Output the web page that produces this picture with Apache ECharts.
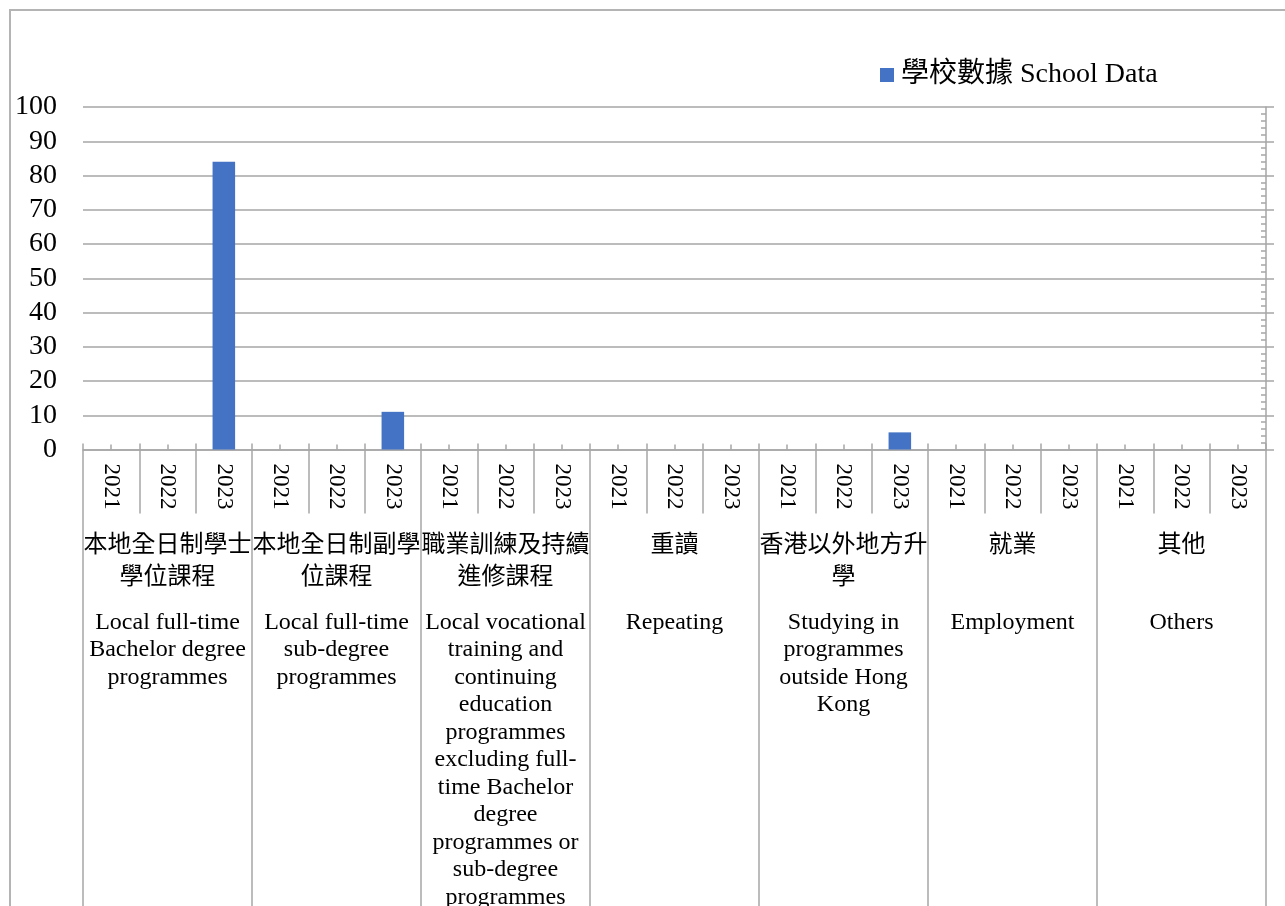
<!DOCTYPE html>
<html>
<head>
<meta charset="utf-8">
<title>學校數據 School Data</title>
<script src="https://cdn.jsdelivr.net/npm/echarts@6/dist/echarts.min.js"></script>
<style>
  html, body { margin: 0; padding: 0; background: #fff; overflow: hidden; }
  #frame {
    position: absolute; left: 9px; top: 9px; width: 1400px; height: 1100px;
    border: 2px solid #b4b4b4; box-sizing: border-box;
  }
  #chart { position: absolute; left: 0; top: 0; width: 1285px; height: 906px; }
</style>
</head>
<body>
<div id="frame"></div>
<div id="chart"></div>
<script>
// Years shown under each destination group
const years = ['2021', '2022', '2023'];

// Destination groups (Chinese line, English line), with the line breaks used on the axis
const groupsZh = [
  '本地全日制學士\n學位課程',
  '本地全日制副學\n位課程',
  '職業訓練及持續\n進修課程',
  '重讀',
  '香港以外地方升\n學',
  '就業',
  '其他'
];
const groupsEn = [
  'Local full-time\nBachelor degree\nprogrammes',
  'Local full-time\nsub-degree\nprogrammes',
  'Local vocational\ntraining and\ncontinuing\neducation\nprogrammes\nexcluding full-\ntime Bachelor\ndegree\nprogrammes or\nsub-degree\nprogrammes',
  'Repeating',
  'Studying in\nprogrammes\noutside Hong\nKong',
  'Employment',
  'Others'
];

// Percentage of students per group, one array per year
const values2021 = [0, 0, 0, 0, 0, 0, 0];
const values2022 = [0, 0, 0, 0, 0, 0, 0];
const values2023 = [84, 11, 0, 0, 5, 0, 0];

// Value axis ticks
const yMin = 0, yMax = 100, yStep = 10;

const seriesName = '學校數據 School Data';

// Flatten into one bar per (group, year)
const yearCats = [];
const barValues = [];
const perYear = [values2021, values2022, values2023];
groupsZh.forEach((g, gi) => {
  years.forEach((y, yi) => {
    yearCats.push(y);
    barValues.push(perYear[yi][gi]);
  });
});

const GRAY = '#a6a6a6';
const LW = 1.5;
const SERIF = "'Liberation Serif', 'Times New Roman', 'Noto Sans CJK TC', serif";
const CJK = "'Liberation Serif', 'Noto Sans CJK TC', sans-serif";

const hiddenLabel = { show: false };
const hiddenLine = { show: false };

const chart = echarts.init(document.getElementById('chart'), null, { renderer: 'canvas' });

chart.setOption({
  animation: false,
  backgroundColor: 'transparent',
  legend: {
    data: [seriesName],
    left: 875,
    top: 56,
    icon: 'rect',
    itemWidth: 14,
    itemHeight: 14,
    textStyle: { fontSize: 28, fontFamily: CJK, color: '#000', padding: [0, 0, 0, 2] }
  },
  grid: {
    left: 83, right: 19, top: 107, bottom: 456.5,
    containLabel: false,
    outerBoundsMode: 'none'
  },
  xAxis: [
    // Year level: labels and long boundary ticks below the axis
    {
      type: 'category', data: yearCats, position: 'bottom', gridIndex: 0,
      axisLine: { show: true, onZero: false, lineStyle: { color: GRAY, width: LW } },
      axisTick: { show: true, alignWithLabel: false, interval: 0, length: 64,
                  lineStyle: { color: GRAY, width: LW } },
      axisLabel: { interval: 0, rotate: -90, margin: 14, fontSize: 23,
                   fontFamily: SERIF, color: '#000' },
      splitLine: { show: false }
    },
    // Short boundary ticks above the axis
    {
      type: 'category', data: yearCats, position: 'bottom', gridIndex: 0,
      axisLine: { show: false, onZero: false },
      axisTick: { show: true, inside: true, alignWithLabel: false, interval: 0, length: 6,
                  lineStyle: { color: GRAY, width: LW } },
      axisLabel: hiddenLabel, splitLine: hiddenLine
    },
    // Short centre ticks above the axis
    {
      type: 'category', data: yearCats, position: 'bottom', gridIndex: 0,
      axisLine: { show: false, onZero: false },
      axisTick: { show: true, inside: true, alignWithLabel: true, interval: 0, length: 5,
                  lineStyle: { color: GRAY, width: LW } },
      axisLabel: hiddenLabel, splitLine: hiddenLine
    },
    // Group level (Chinese) with full-height group separators
    {
      type: 'category', data: groupsZh, position: 'bottom', gridIndex: 0,
      axisLine: { show: false, onZero: false },
      axisTick: { show: true, alignWithLabel: false, interval: 0, length: 520,
                  lineStyle: { color: GRAY, width: LW } },
      axisLabel: { interval: 0, margin: 80, fontSize: 24, lineHeight: 32,
                   fontFamily: CJK, color: '#000', align: 'center' },
      splitLine: hiddenLine
    },
    // Group level (English)
    {
      type: 'category', data: groupsEn, position: 'bottom', gridIndex: 0,
      axisLine: { show: false, onZero: false },
      axisTick: { show: false },
      axisLabel: { interval: 0, margin: 159, fontSize: 24, lineHeight: 27.5,
                   fontFamily: SERIF, color: '#000', align: 'center' },
      splitLine: hiddenLine
    }
  ],
  yAxis: [
    {
      type: 'value', min: yMin, max: yMax, interval: yStep, position: 'left',
      axisLine: { show: false }, axisTick: { show: false },
      axisLabel: { margin: 26, fontSize: 28, fontFamily: SERIF, color: '#000' },
      splitLine: { show: true, lineStyle: { color: GRAY, width: LW } }
    },
    // Right axis line with outward major ticks
    {
      type: 'value', min: yMin, max: yMax, interval: yStep, position: 'right',
      axisLine: { show: true, onZero: false, lineStyle: { color: GRAY, width: LW } },
      axisTick: { show: true, length: 8, lineStyle: { color: GRAY, width: LW } },
      axisLabel: hiddenLabel, splitLine: hiddenLine
    },
    // Right axis inward minor ticks
    {
      type: 'value', min: yMin, max: yMax, interval: yStep, position: 'right',
      axisLine: { show: false, onZero: false },
      axisTick: { show: false, inside: true },
      minorTick: { show: true, splitNumber: 5, length: 5, lineStyle: { color: GRAY, width: LW } },
      axisLabel: hiddenLabel, splitLine: hiddenLine
    }
  ],
  series: [
    {
      name: seriesName,
      type: 'bar',
      xAxisIndex: 0,
      yAxisIndex: 0,
      data: barValues,
      barCategoryGap: '60%',
      itemStyle: { color: '#4472c4' }
    }
  ]
});
</script>
</body>
</html>
